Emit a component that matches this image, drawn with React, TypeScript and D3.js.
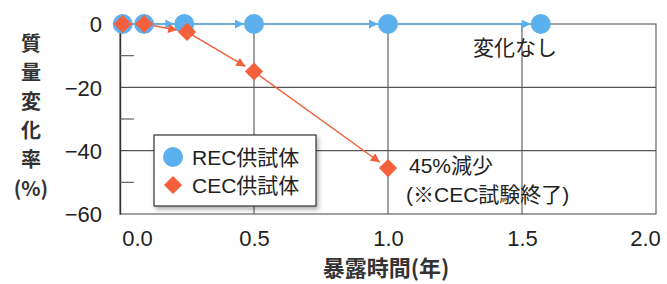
import { useEffect, useRef } from 'react';
import * as d3 from 'd3';

// 暴露時間(年) and 質量変化率(%)
const recYears = [0.01, 0.09, 0.24, 0.5, 1.0, 1.57];
const recValues = [0, 0, 0, 0, 0, 0];
const cecYears = [0.01, 0.09, 0.25, 0.5, 1.0];
const cecValues = [0, 0, -2.5, -15, -45.5];

const xTicks = [0, 0.5, 1.0, 1.5, 2.0];
const yTicks = [0, -20, -40, -60];
const yMinorTicks = [-10, -30, -50];

const yTitleChars = ['質', '量', '変', '化', '率', '(%)'];
const seriesNames = ['REC供試体', 'CEC供試体'];

const BLUE = '#5cb0ee';
const ORANGE = '#f4603b';
const FONT = '"Liberation Sans", "Noto Sans CJK JP", sans-serif';
const TITLE_FONT = '"Noto Sans CJK JP", sans-serif';

const App = () => {
  const ref = useRef<SVGSVGElement>(null);

  useEffect(() => {
    const svg = d3.select(ref.current);
    svg.selectAll('*').remove();

    const left = 120, right = 656, top = 24, bottom = 214;
    const x = d3.scaleLinear().domain([0, 2]).range([left, right]);
    const y = d3.scaleLinear().domain([-60, 0]).range([bottom, top]);

    const defs = svg.append('defs');
    const arrow = (id: string, color: string) =>
      defs.append('marker')
        .attr('id', id)
        .attr('viewBox', '0 0 10 10')
        .attr('refX', 10).attr('refY', 5)
        .attr('markerWidth', 11).attr('markerHeight', 9)
        .attr('markerUnits', 'userSpaceOnUse')
        .attr('orient', 'auto')
        .append('path').attr('d', 'M0,0L10,5L0,10Z').attr('fill', color);
    arrow('arrBlue', BLUE);
    arrow('arrOrange', ORANGE);
    const shadow = defs.append('filter').attr('id', 'shadow')
      .attr('x', '-10%').attr('y', '-10%').attr('width', '130%').attr('height', '140%');
    shadow.append('feDropShadow').attr('dx', 2).attr('dy', 3).attr('stdDeviation', 2)
      .attr('flood-color', '#000').attr('flood-opacity', 0.3);

    // grid
    const grid = svg.append('g').attr('stroke', '#555').attr('stroke-width', 1.1);
    [0.5, 1.0, 1.5].forEach(v =>
      grid.append('line').attr('x1', x(v)).attr('x2', x(v)).attr('y1', top).attr('y2', bottom));
    [-20, -40].forEach(v =>
      grid.append('line').attr('x1', left).attr('x2', right).attr('y1', y(v)).attr('y2', y(v)));
    grid.append('rect').attr('x', left).attr('y', top)
      .attr('width', right - left).attr('height', bottom - top).attr('fill', 'none');

    // y axis
    const yAxis = svg.append('g').attr('transform', `translate(${left},0)`)
      .call(d3.axisLeft(y).tickValues(yTicks).tickSize(0).tickPadding(18)
        .tickFormat(d => d3.format('d')(d as number)));
    yAxis.select('.domain').attr('stroke', '#333').attr('stroke-width', 1.4);
    yAxis.selectAll('text').attr('font-family', FONT).attr('font-size', 22)
      .attr('fill', '#222').attr('dy', '0.36em');
    svg.append('g').selectAll('line').data(yMinorTicks).enter().append('line')
      .attr('x1', left).attr('x2', left + 14).attr('y1', d => y(d)).attr('y2', d => y(d))
      .attr('stroke', '#555').attr('stroke-width', 1.1);

    // x axis
    const xShift: Record<string, number> = { '0': 17, '2': -11 };
    const xAxis = svg.append('g').attr('transform', `translate(0,${bottom})`)
      .call(d3.axisBottom(x).tickValues(xTicks).tickSize(0).tickPadding(16)
        .tickFormat(d3.format('.1f')));
    xAxis.select('.domain').remove();
    xAxis.selectAll('text').attr('font-family', FONT).attr('font-size', 22)
      .attr('fill', '#222').attr('dx', (d: any) => xShift[String(d)] ?? 0);

    // titles
    svg.append('g').selectAll('text').data(yTitleChars).enter().append('text')
      .attr('x', 31).attr('y', (_, i) => 51 + i * 29).attr('text-anchor', 'middle')
      .attr('font-family', TITLE_FONT).attr('font-size', 20).attr('font-weight', 'bold')
      .attr('fill', '#333').text(d => d);
    svg.append('text').attr('x', 386).attr('y', 276).attr('text-anchor', 'middle')
      .attr('font-family', TITLE_FONT).attr('font-size', 22).attr('font-weight', 'bold')
      .attr('fill', '#333').text('暴露時間(年)');

    // series lines with arrowheads at each segment end
    const drawSegments = (xs: number[], vs: number[], color: string, marker: string, r: number) => {
      const g = svg.append('g');
      for (let i = 0; i < xs.length - 1; i++) {
        const x1 = x(xs[i]), y1 = y(vs[i]), x2 = x(xs[i + 1]), y2 = y(vs[i + 1]);
        const len = Math.hypot(x2 - x1, y2 - y1);
        if (len < r * 2) continue;
        const ex = x2 - (x2 - x1) / len * r, ey = y2 - (y2 - y1) / len * r;
        g.append('line').attr('x1', x1).attr('y1', y1).attr('x2', ex).attr('y2', ey)
          .attr('stroke', color).attr('stroke-width', 1.5)
          .attr('marker-end', `url(#${marker})`);
      }
    };
    drawSegments(recYears, recValues, BLUE, 'arrBlue', 10);
    drawSegments(cecYears, cecValues, ORANGE, 'arrOrange', 10);

    const diamond = d3.symbol().type(d3.symbolDiamond2).size(210);

    svg.append('g').selectAll('circle').data(recYears).enter().append('circle')
      .attr('cx', d => x(d)).attr('cy', (_, i) => y(recValues[i])).attr('r', 10)
      .attr('fill', BLUE);
    svg.append('g').selectAll('path').data(cecYears).enter().append('path')
      .attr('d', diamond)
      .attr('transform', (d, i) => `translate(${x(d)},${y(cecValues[i])})`)
      .attr('fill', ORANGE);

    // annotations
    const ann = svg.append('g').attr('font-family', FONT).attr('font-size', 21).attr('fill', '#222');
    ann.append('text').attr('x', 473).attr('y', 55).text('変化なし');
    ann.append('text').attr('x', 409).attr('y', 173).text('45%減少');
    ann.append('text').attr('x', 406).attr('y', 202).text('(※CEC試験終了)');

    // legend
    const lg = svg.append('g').attr('transform', 'translate(154,135)');
    lg.append('rect').attr('width', 162).attr('height', 71).attr('fill', '#fff')
      .attr('stroke', '#333').attr('stroke-width', 1.2).attr('filter', 'url(#shadow)');
    lg.append('circle').attr('cx', 19).attr('cy', 22).attr('r', 10).attr('fill', BLUE);
    lg.append('path').attr('d', diamond).attr('transform', 'translate(19,50)').attr('fill', ORANGE);
    lg.selectAll('text.name').data(seriesNames).enter().append('text')
      .attr('x', 38).attr('y', (_, i) => 22 + i * 28).attr('dy', '0.36em')
      .attr('font-family', FONT).attr('font-size', 21).attr('fill', '#222')
      .text(d => d);
  }, []);

  return (
    <div>
      <svg ref={ref} width={667} height={284}
        style={{ position: 'absolute', left: 0, top: 0, background: '#fff' }} />
    </div>
  );
};

export default App;
